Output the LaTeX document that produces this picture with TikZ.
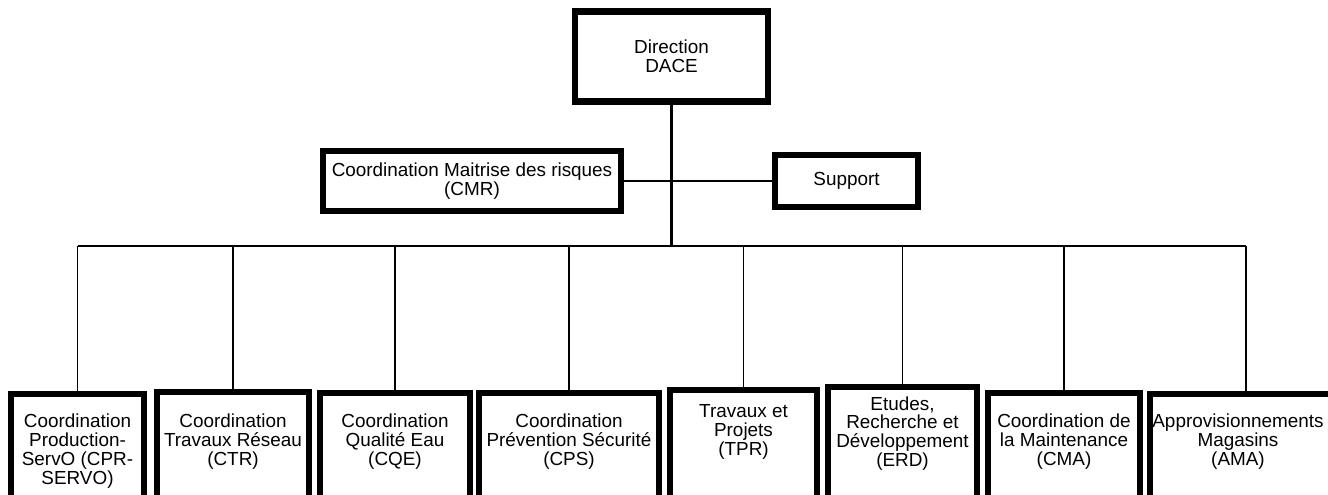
\documentclass[tikz,border=0pt]{standalone}
\usepackage{fontspec}
\setmainfont{Liberation Sans}
\usetikzlibrary{positioning}
\tikzset{
  orgfont/.style={font=\fontsize{18.9}{18.8}\selectfont},
  headbox/.style={draw, line width=6.5pt, align=center, inner sep=0pt, orgfont},
  unitbox/.style={draw, line width=6pt, anchor=north, minimum height=170pt, inner sep=0pt},
  unittext/.style={align=center, inner sep=0pt, orgfont},
  trunk/.style={line width=2.2pt},
  link/.style={line width=1.3pt}
}

\begin{document}
\begin{tikzpicture}[x=1pt,y=-1pt]
  \useasboundingbox (0,0) rectangle (1328,495);
  % direction and staff units
  \node[headbox, minimum width=193pt, minimum height=90pt] (dace) at (671.5,56.5) {Direction\\DACE};
  \node[headbox, line width=6pt, minimum width=298pt, minimum height=60pt] (cmr) at (472,181) {Coordination Maitrise des risques\\(CMR)};
  \node[headbox, line width=5.5pt, minimum width=143pt, minimum height=52pt] (support) at (846.5,181) {Support};
  \draw[link] (cmr) -- (support);
  % operational units
  \foreach \n/\x/\w/\top/\tx/\ty/\t in {
      cpr/77.5/133/391/77.5/451/{Coordination\\Production-\\ServO (CPR-\\SERVO)},
      ctr/233/152/389/233/441.7/{Coordination\\Travaux Réseau\\(CTR)},
      cqe/395/150/390/395/441.7/{Coordination\\Qualité Eau\\(CQE)},
      cps/569/180/390/569/441.7/{Coordination\\Prévention Sécurité\\(CPS)},
      tpr/743.5/147/387/743.5/431.7/{Travaux et\\Projets\\(TPR)},
      erd/902.5/149/384/902.5/433.5/{Etudes,\\Recherche et\\Développement\\(ERD)},
      cma/1064/152/390/1064/441.7/{Coordination de\\la Maintenance\\(CMA)},
      ama/1246/192/391/1238/441.7/{Approvisionnements\\Magasins\\(AMA)}} {
    \node[unitbox, minimum width=\w pt] (\n) at (\x,\top) {};
    \node[unittext] (\n-txt) at (\tx,\ty) {\t};
  }
  \coordinate (hub) at (671.5,246);
  \draw[trunk] (dace) -- (hub);
  \draw[trunk] (cpr.north |- hub) -- (ama.north |- hub);
  \foreach \n in {cpr,ctr,cqe,cps,tpr,erd,cma,ama}
    \draw[link] (\n.north |- hub) -- (\n.north);
\end{tikzpicture}
\end{document}
